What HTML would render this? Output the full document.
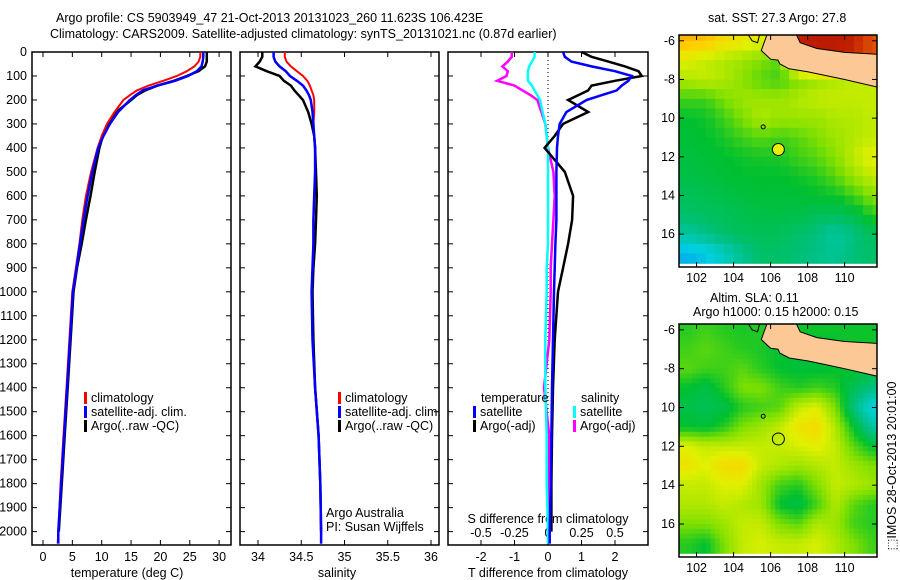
<!DOCTYPE html>
<html><head><meta charset="utf-8"><style>
html,body{margin:0;padding:0;background:#fff;width:900px;height:580px;overflow:hidden}
svg text{font-family:"Liberation Sans",sans-serif;font-size:12.5px;fill:#000}
</style></head><body>
<svg id="s" width="900" height="580" viewBox="0 0 900 580" xmlns="http://www.w3.org/2000/svg">
<text x="56" y="22" font-size="13.5">Argo profile: CS 5903949_47 21-Oct-2013 20131023_260 11.623S 106.423E</text>
<text x="50" y="38" font-size="13.5">Climatology: CARS2009. Satellite-adjusted climatology: synTS_20131021.nc (0.87d earlier)</text>
<text x="708" y="22">sat. SST: 27.3 Argo: 27.8</text>
<text x="710" y="302">Altim. SLA: 0.11</text>
<text x="693" y="316">Argo h1000: 0.15 h2000: 0.15</text>
<text transform="translate(896,466) rotate(-90)" text-anchor="middle">⬚IMOS 28-Oct-2013 20:01:00</text>
</svg>
<script>
// ---------- data ----------
const depths=[0,20,40,60,80,100,120,140,160,180,200,250,300,350,400,500,600,700,800,900,1000,1200,1400,1600,1800,2000,2050];
const tempClim=[26.8,26.8,26.5,25.8,24.5,22.8,20.5,18,16,14.8,13.7,12.2,10.9,10,9.3,8.2,7.3,6.7,6.2,5.6,5.0,4.5,4.0,3.5,3.0,2.6,2.5];
const tempSat=[27.3,27.3,27.2,27,26.2,24.7,22.5,19.5,17,15.8,14.8,12.8,11.4,10.3,9.4,8.4,7.6,6.9,6.3,5.7,5.1,4.6,4.1,3.6,3.1,2.6,2.6];
const tempArgo=[27.9,27.9,27.9,27.6,26.5,24.5,22.3,19.5,17.4,16,15,12.5,11.2,10.2,9.6,8.8,8.1,7.3,6.6,5.8,5.2,4.7,4.2,3.7,3.2,2.7,null];
const saltClim=[34.31,34.31,34.33,34.38,34.45,34.52,34.57,34.60,34.62,34.64,34.65,34.65,34.64,34.65,34.66,34.66,34.65,34.64,34.64,34.63,34.62,34.63,34.66,34.70,34.72,34.73,34.73];
const saltSat=[34.18,34.18,34.20,34.25,34.32,34.37,34.45,34.52,34.56,34.59,34.61,34.63,34.64,34.65,34.66,34.66,34.65,34.64,34.64,34.63,34.62,34.63,34.66,34.70,34.72,34.73,34.73];
const saltArgo=[34.05,34.05,34.02,33.97,34.10,34.25,34.30,34.38,34.42,34.47,34.52,34.58,34.62,34.65,34.66,34.67,34.68,34.67,34.66,34.64,34.63,34.64,34.66,34.70,34.72,34.73,null];
const tDiffSat=[0.45,0.5,0.7,1.3,2.0,2.5,2.4,2.2,2.05,1.6,1.15,0.55,0.35,0.3,0.27,0.25,0.25,0.25,0.22,0.2,0.18,0.15,0.12,0.1,0.08,0.05,0.05];
const tDiffArgo=[1.0,1.3,1.8,2.3,2.7,2.8,2.0,1.3,1.2,0.9,0.6,1.2,0.45,0.2,-0.1,0.5,0.75,0.72,0.6,0.45,0.3,0.2,0.15,0.12,0.1,0.1,null];
const sDiffSat=[-0.1,-0.1,-0.12,-0.14,-0.15,-0.15,-0.15,-0.12,-0.1,-0.08,-0.06,-0.04,-0.02,-0.01,0,0,0,0,0,-0.01,-0.01,-0.02,-0.02,-0.01,-0.01,0,0];
const sDiffArgo=[-0.27,-0.27,-0.3,-0.34,-0.3,-0.31,-0.38,-0.25,-0.19,-0.13,-0.08,-0.05,-0.02,-0.01,0,0.04,0.05,0.04,0.03,0.02,0.02,0.01,-0.03,0.01,0,0,null];
const depthTicks=[0,100,200,300,400,500,600,700,800,900,1000,1100,1200,1300,1400,1500,1600,1700,1800,1900,2000];
const tempTicks=[0,5,10,15,20,25,30];
const saltTicks=[34,34.5,35,35.5,36];
const saltTickLabels=["34","34.5","35","35.5","36"];
const tDiffTicks=[-2,-1,0,1,2];
const sDiffTicks=[-0.5,-0.25,0,0.25,0.5];
const sDiffTickLabels=["-0.5","-0.25","0","0.25","0.5"];
const mapLons=[101.5,102.5,103.5,104.5,105.5,106.5,107.5,108.5,109.5,110.5,111.5];
const mapLats=[-6,-7,-8,-9,-10,-11,-12,-13,-14,-15,-16,-17];
const sstGrid=[
[.75,.74,.70,.68,.66,.62,.90,.92,.92,.90,.85],
[.65,.62,.60,.58,.55,.52,.88,.90,.90,.88,.85],
[.60,.62,.60,.56,.52,.50,.55,.58,.60,.62,.62],
[.50,.50,.55,.58,.58,.58,.60,.62,.62,.62,.62],
[.45,.46,.50,.55,.60,.58,.58,.58,.60,.60,.62],
[.44,.45,.47,.50,.52,.50,.52,.55,.58,.60,.62],
[.43,.44,.45,.46,.47,.47,.50,.52,.56,.62,.66],
[.42,.43,.44,.45,.45,.45,.46,.48,.52,.58,.62],
[.40,.41,.42,.43,.44,.44,.44,.45,.46,.50,.56],
[.38,.39,.40,.41,.42,.42,.42,.40,.40,.42,.48],
[.30,.34,.38,.40,.40,.40,.38,.35,.30,.35,.40],
[.15,.18,.25,.33,.38,.38,.36,.34,.32,.36,.38]];
const slaGrid=[
[.48,.50,.48,.47,.48,.46,.46,.46,.46,.46,.46],
[.50,.52,.50,.48,.47,.45,.44,.45,.45,.46,.46],
[.52,.50,.50,.52,.48,.45,.44,.44,.45,.45,.44],
[.45,.42,.48,.55,.55,.50,.48,.50,.48,.40,.35],
[.42,.40,.42,.48,.50,.52,.62,.65,.55,.35,.20],
[.45,.44,.48,.55,.58,.62,.68,.70,.60,.45,.30],
[.65,.62,.62,.62,.62,.62,.64,.66,.62,.52,.45],
[.68,.65,.70,.70,.62,.60,.58,.60,.62,.58,.55],
[.62,.62,.65,.65,.58,.50,.48,.55,.62,.60,.58],
[.60,.60,.62,.60,.58,.45,.42,.50,.60,.52,.48],
[.55,.55,.58,.62,.62,.55,.52,.60,.58,.50,.48],
[.48,.45,.55,.62,.64,.62,.62,.64,.60,.55,.50]];
const javaLon=[105.8,107.4,107.6,108.5,110,111.8,111.8,110,109,108,107,106.5,106.4,106,105.5];
const javaLat=[-5.7,-5.7,-6.1,-6.4,-6.6,-6.7,-8.4,-8.0,-7.8,-7.6,-7.45,-7.2,-7.0,-6.95,-6.5];
const argoLon=106.42, argoLat=-11.62;
const lonTicks=[102,104,106,108,110];
const latTicks=[-6,-8,-10,-12,-14,-16];
const latTickLabels=["-6","-8","10","12","14","16"];

// ---------- helpers ----------
const S=document.getElementById('s');const NS='http://www.w3.org/2000/svg';
function mk(tag,at,parent){const e=document.createElementNS(NS,tag);for(const k in at)e.setAttribute(k,at[k]);(parent||S).appendChild(e);return e;}
const yD=d=>52+d*0.2398;
const xT=t=>43+t*5.87;
const xS=s=>258+(s-34)*86.5;
const xTd=t=>548+t*33.5;
const xSd=s=>548+s*134;

function frame(x0,x1,name){const r=mk('rect',{x:x0,y:52,width:x1-x0,height:493,fill:'none',stroke:'#000','stroke-width':1.5});


for(const d of depthTicks){mk('line',{x1:x0,x2:x0+5,y1:yD(d),y2:yD(d),stroke:'#000'});mk('line',{x1:x1-5,x2:x1,y1:yD(d),y2:yD(d),stroke:'#000'});}}
function line(xs,xf,color,w,name){let p='';let started=false;
for(let i=0;i<depths.length;i++){if(xs[i]==null)continue;p+=(started?'L':'M')+xf(xs[i]).toFixed(1)+','+yD(depths[i]).toFixed(1);started=true;}
const e=mk('path',{d:p,fill:'none',stroke:color,'stroke-width':w,'stroke-linejoin':'miter'});

}
function txt(x,y,s,anchor,name){const e=mk('text',{x:x,y:y,'text-anchor':anchor||'start'});e.textContent=s;

return e;}
function legend(x,y,color,label,name){mk('rect',{x:x,y:y-10,width:3,height:12,fill:color});txt(x+7,y,label,'start',name);}

// ---------- panel 1 ----------
frame(32,231,'temperature-panel');
for(const d of depthTicks)txt(27,yD(d)+4,String(d),'end','depth-tick-label');
for(const t of tempTicks){mk('line',{x1:xT(t),x2:xT(t),y1:545,y2:540,stroke:'#000'});mk('line',{x1:xT(t),x2:xT(t),y1:52,y2:57,stroke:'#000'});txt(xT(t),561,String(t),'middle','temperature-tick-label');}
txt(127,577,'temperature (deg C)','middle','temperature-axis-title');
line(tempArgo,xT,'#000',2.5,'temp-argo-line');
line(tempClim,xT,'#f00',2,'temp-climatology-line');
line(tempSat,xT,'#00f',2.5,'temp-satellite-line');
legend(84,402,'#f00','climatology','legend-temp-climatology');
legend(84,416,'#00f','satellite-adj. clim.','legend-temp-satellite');
legend(84,430,'#000','Argo(..raw -QC)','legend-temp-argo');

// ---------- panel 2 ----------
frame(240,439,'salinity-panel');
saltTicks.forEach((s,i)=>{mk('line',{x1:xS(s),x2:xS(s),y1:545,y2:540,stroke:'#000'});mk('line',{x1:xS(s),x2:xS(s),y1:52,y2:57,stroke:'#000'});txt(xS(s),561,saltTickLabels[i],'middle','salinity-tick-label');});
txt(337,577,'salinity','middle','salinity-axis-title');
line(saltArgo,xS,'#000',2.5,'salt-argo-line');
line(saltClim,xS,'#f00',2,'salt-climatology-line');
line(saltSat,xS,'#00f',2.5,'salt-satellite-line');
legend(338,402,'#f00','climatology','legend-salt-climatology');
legend(338,416,'#00f','satellite-adj. clim.','legend-salt-satellite');
legend(338,430,'#000','Argo(..raw -QC)','legend-salt-argo');
txt(326,517,'Argo Australia','start','credit-argo-australia');
txt(326,531,'PI: Susan Wijffels','start','credit-pi');

// ---------- panel 3 ----------
frame(448,648,'difference-panel');
mk('line',{x1:548,x2:548,y1:52,y2:545,stroke:'#000','stroke-dasharray':'1,3'});
for(const t of tDiffTicks){mk('line',{x1:xTd(t),x2:xTd(t),y1:545,y2:540,stroke:'#000'});txt(xTd(t),561,String(t),'middle','t-diff-tick-label');}
sDiffTicks.forEach((s,i)=>{mk('line',{x1:xSd(s),x2:xSd(s),y1:52,y2:57,stroke:'#000'});mk('line',{x1:xSd(s),x2:xSd(s),y1:545,y2:540,stroke:'#000'});txt(xSd(s),537,sDiffTickLabels[i],'middle','s-diff-tick-label');});
txt(548,523,'S difference from climatology','middle','s-diff-axis-title');
txt(548,577,'T difference from climatology','middle','t-diff-axis-title');
line(sDiffArgo,xSd,'#f0f',2.5,'s-diff-argo-line');
line(sDiffSat,xSd,'#0ff',2.5,'s-diff-satellite-line');
line(tDiffArgo,xTd,'#000',2.5,'t-diff-argo-line');
line(tDiffSat,xTd,'#00f',2.5,'t-diff-satellite-line');
txt(481,402,'temperature','start','legend-temperature-header');
txt(581,402,'salinity','start','legend-salinity-header');
legend(473,416,'#00f','satellite','legend-t-satellite');
legend(473,430,'#000','Argo(-adj)','legend-t-argo');
legend(573,416,'#0ff','satellite','legend-s-satellite');
legend(573,430,'#f0f','Argo(-adj)','legend-s-argo');

// ---------- maps ----------
const stops=[[0,[16,96,255]],[0.2,[0,208,224]],[0.35,[0,192,128]],[0.45,[0,192,48]],[0.55,[128,224,0]],[0.65,[224,240,0]],[0.72,[255,208,0]],[0.8,[255,128,0]],[0.9,[192,32,0]],[1,[160,0,0]]];
function cmap(v){for(let i=1;i<stops.length;i++){if(v<=stops[i][0]){const a=stops[i-1],b=stops[i];const f=(v-a[0])/(b[0]-a[0]);return 'rgb('+a[1].map((c,k)=>Math.round(c+(b[1][k]-c)*f)).join(',')+')';}}return 'rgb(160,0,0)';}
function sample(grid,fr,fc){const R=grid.length-1,C=grid[0].length-1;fr=Math.max(0,Math.min(R,fr));fc=Math.max(0,Math.min(C,fc));
 const r0=Math.floor(fr),c0=Math.floor(fc),r1=Math.min(R,r0+1),c1=Math.min(C,c0+1),a=fr-r0,b=fc-c0;
 return grid[r0][c0]*(1-a)*(1-b)+grid[r0][c1]*(1-a)*b+grid[r1][c0]*a*(1-b)+grid[r1][c1]*a*b;}
function drawMap(y0,y1,grid,name,fillCircle,sub){
 const x0=679,x1=877;const lonA=101.05,lonB=111.75,latA=-5.7,latB=-17.7;
 const mx=l=>x0+(l-lonA)/(lonB-lonA)*(x1-x0);const my=l=>y0+(l-latA)/(latB-latA)*(y1-y0);
 const g=mk('g',{});
 
 
 const cid='clip'+name;const cp=mk('clipPath',{id:cid});mk('rect',{x:x0,y:y0,width:x1-x0,height:y1-y0},cp);
 const gc=mk('g',{'clip-path':'url(#'+cid+')'},g);
 const step=1/sub;
 for(let r=0;r<mapLats.length;r++)for(let c=0;c<mapLons.length;c++)for(let i=0;i<sub;i++)for(let j=0;j<sub;j++){
  const fr=r-0.5+(i+0.5)*step, fc=c-0.5+(j+0.5)*step;
  const v=sub>1?sample(grid,fr,fc):grid[r][c];
  const lo=mapLons[c]-0.5+j*step, la=mapLats[r]+0.5-i*step;
  const xa=mx(lo),xb=mx(lo+step),ya=my(la),yb=my(la-step);
  const cell=mk('rect',{x:xa.toFixed(1),y:ya.toFixed(1),width:(xb-xa+0.6).toFixed(1),height:(yb-ya+0.6).toFixed(1),fill:cmap(v)},gc);
  
  }
 const pts=javaLon.map((l,i)=>mx(l).toFixed(1)+','+my(javaLat[i]).toFixed(1)).join(' ');
 const land=mk('polygon',{points:pts,fill:'#fcc896',stroke:'#000','stroke-width':1},gc);
 
 
 mk('polygon',{points:[[104.8,-5.7],[105.4,-5.7],[105.3,-6.1],[105.0,-6.0]].map(p=>mx(p[0]).toFixed(1)+','+my(p[1]).toFixed(1)).join(' '),fill:'none',stroke:'#000'},gc);
 mk('circle',{cx:mx(105.6),cy:my(-10.45),r:2,fill:'none',stroke:'#000'},gc);
 const ac=mk('circle',{cx:mx(argoLon),cy:my(argoLat),r:6,fill:fillCircle,stroke:'#000','stroke-width':1},gc);
 
 
 mk('rect',{x:x0,y:y0,width:x1-x0,height:y1-y0,fill:'none',stroke:'#000','stroke-width':1.5},g);
 for(const l of lonTicks){mk('line',{x1:mx(l),x2:mx(l),y1:y1,y2:y1-5,stroke:'#000'},g);mk('line',{x1:mx(l),x2:mx(l),y1:y0,y2:y0+5,stroke:'#000'},g);
  const t=txt(mx(l),y1+15,String(l),'middle','map-lon-tick-label');g.appendChild(t);}
 latTicks.forEach((l,i)=>{mk('line',{x1:x0,x2:x0+5,y1:my(l),y2:my(l),stroke:'#000'},g);mk('line',{x1:x1,x2:x1-5,y1:my(l),y2:my(l),stroke:'#000'},g);
  const t=txt(x0-4,my(l)+4,latTickLabels[i],'end','map-lat-tick-label');g.appendChild(t);});
}
drawMap(35,267,sstGrid,'sst-map','#e8f000',2);
drawMap(324,557,slaGrid,'sla-map','none',4);
</script>
</body></html>
